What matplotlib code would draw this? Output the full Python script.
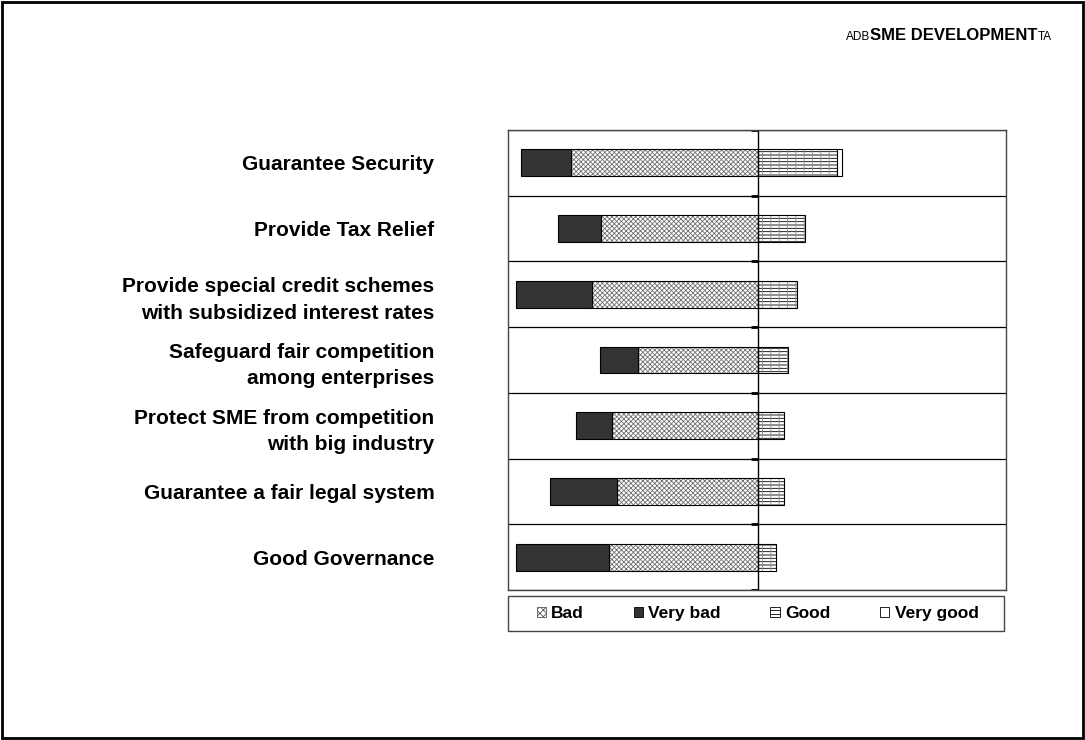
import numpy as np
import matplotlib.pyplot as plt
from matplotlib.patches import Patch, Rectangle

plt.rcParams['font.family'] = ['Liberation Sans', 'DejaVu Sans']
plt.rcParams['hatch.linewidth'] = 0.6

# survey answers per policy measure (share of respondents)
measures = ["Guarantee Security",
            "Provide Tax Relief",
            "Provide special credit schemes\nwith subsidized interest rates",
            "Safeguard fair competition\namong enterprises",
            "Protect SME from competition\nwith big industry",
            "Guarantee a fair legal system",
            "Good Governance"]
very_bad = [20.1, 17.3, 30.4, 15.0, 14.7, 26.8, 37.2]
bad = [75.0, 63.1, 66.7, 48.4, 58.6, 56.8, 59.9]
good = [31.8, 18.8, 15.6, 12.0, 10.4, 10.4, 7.3]
very_good = [1.8, 0, 0, 0, 0, 0, 0]

W, H = 1085, 740
fig = plt.figure(figsize=(W / 100, H / 100), dpi=100)
ax = fig.add_axes([508 / W, 1 - 590 / H, 498 / W, 460 / H])

y = np.arange(len(measures))
bad_a = np.array(bad)
vbad_a = np.array(very_bad)
good_a = np.array(good)
h = 0.41

# negative side: bad next to the axis, very bad further out
ax.barh(y, -bad_a, h, color='white', edgecolor='#707070', hatch='xxxxxxx', lw=0)
ax.barh(y, -bad_a, h, fill=False, edgecolor='black', lw=0.8)
ax.barh(y, -vbad_a, h, left=-bad_a, color='#333333', edgecolor='black', lw=0.8)
# positive side
ax.barh(y, good_a, h, color='white', edgecolor='black', hatch='-----', lw=0)
ax.barh(y, good_a, h, color='none', edgecolor='#8a8a8a', hatch='||', lw=0)
ax.barh(y, good_a, h, fill=False, edgecolor='black', lw=0.8)
vg = np.array(very_good)
ax.barh(y[vg > 0], vg[vg > 0], h, left=good_a[vg > 0], color='white',
        edgecolor='black', lw=0.8)

ax.set_xlim(-100.5, 99.5)
ax.set_ylim(len(measures) - 0.5, -0.5)

# row separators and the category axis at zero
for b in np.arange(len(measures) + 1) - 0.5:
    ax.axhline(b, color='black', lw=0.9)
ax.hlines(np.arange(len(measures) + 1) - 0.5, -3, 0, color='black', lw=2)
ax.axvline(0, color='black', lw=1)

ax.set_xticks([])
ax.set_yticks(y)
ax.set_yticklabels(measures, fontsize=15, fontweight='bold', linespacing=1.5)
ax.tick_params(axis='y', length=0, pad=53)
for s in ax.spines.values():
    s.set_color('#444444')
    s.set_linewidth(1)

handles = [Patch(facecolor='white', edgecolor='#555555', hatch='xxxxx', lw=0.6),
           Patch(facecolor='#333333', edgecolor='black', lw=0.6),
           Patch(facecolor='white', edgecolor='black', hatch='----', lw=0.6),
           Patch(facecolor='white', edgecolor='black', lw=0.6)]
leg = fig.legend(handles, ['Bad', 'Very bad', 'Good', 'Very good'], ncol=4,
                 loc='center', bbox_to_anchor=(757.5 / W, 1 - 613.5 / H),
                 borderaxespad=0, frameon=False,
                 handlelength=0.55, handleheight=0.55, handletextpad=0.3,
                 columnspacing=2.85,
                 prop={'weight': 'bold', 'size': 12.5})
# legend box spans the plot width
fig.patches.append(Rectangle((508 / W, 1 - 631 / H), 496 / W, 35 / H,
                             transform=fig.transFigure, fill=False,
                             edgecolor='#444444', lw=1))

# header, pieces set right after one another
r = fig.canvas.get_renderer()
hy = 1 - 39.5 / H
t1 = fig.text(846 / W, hy, 'ADB', fontsize=8.5, va='baseline')
x1 = t1.get_window_extent(r).x1 / W
t2 = fig.text(x1, hy, 'SME DEVELOPMENT', fontsize=12, fontweight='bold',
              va='baseline')
x2 = t2.get_window_extent(r).x1 / W
fig.text(x2, hy, 'TA', fontsize=8.5, va='baseline')

# page border
fig.patches.append(Rectangle((2 / W, 2 / H), 1 - 4 / W, 1 - 4 / H,
                             transform=fig.transFigure, fill=False,
                             edgecolor='black', lw=2))

fig.savefig('out.png', dpi=100, facecolor='white')
